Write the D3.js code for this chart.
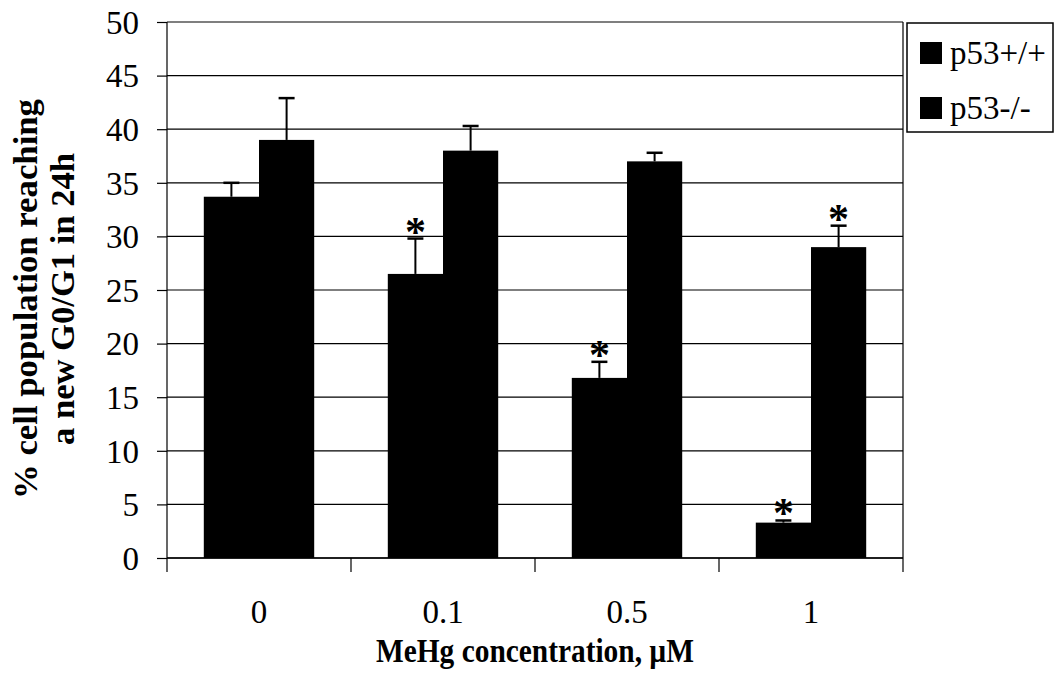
<!DOCTYPE html>
<html>
<head>
<meta charset="utf-8">
<script src="https://cdn.jsdelivr.net/npm/d3@7"></script>
<style>
  body { margin: 0; background: #fff; }
  text { font-family: "Liberation Serif", "Times New Roman", serif; fill: #000; }
</style>
</head>
<body>
<svg width="1055" height="675"></svg>
<script>
// data
const categories = [ "0", "0.1", "0.5", "1" ];
const seriesNames = [ "p53+/+", "p53-/-" ];
const wildType = [ 33.7, 26.5, 16.8, 3.3 ];
const wildTypeErr = [ 1.3, 3.3, 1.5, 0.2 ];
const knockout = [ 39.0, 38.0, 37.0, 29.0 ];
const knockoutErr = [ 3.9, 2.3, 0.8, 2.0 ];
const wildTypeStar = [ false, true, true, true ];
const knockoutStar = [ false, false, false, true ];
const yTicks = [ 0, 5, 10, 15, 20, 25, 30, 35, 40, 45, 50 ];

var svg = d3.select( "svg" ),
  margin = { top: 22, right: 152, bottom: 117, left: 167 },
  width = 1055 - margin.left - margin.right,
  height = 675 - margin.top - margin.bottom;

var x = d3.scaleBand().domain( categories ).range( [ 0, width ] ).paddingInner( 0 ).paddingOuter( 0 ),
  x1 = d3.scaleBand().domain( seriesNames ).range( [ x.bandwidth() * 0.2, x.bandwidth() * 0.8 ] ),
  y = d3.scaleLinear().domain( [ 0, 50 ] ).range( [ height, 0 ] );

var g = svg.append( "g" )
  .attr( "transform", "translate(" + margin.left + "," + margin.top + ")" );

// gridlines
g.append( "g" )
  .selectAll( "line" )
  .data( yTicks )
  .enter().append( "line" )
  .attr( "x1", 0 ).attr( "x2", width )
  .attr( "y1", d => y( d ) ).attr( "y2", d => y( d ) )
  .attr( "stroke", "#000" ).attr( "stroke-width", 1.2 );

// right border of plot area
g.append( "line" )
  .attr( "x1", width ).attr( "x2", width )
  .attr( "y1", 0 ).attr( "y2", height )
  .attr( "stroke", "#000" ).attr( "stroke-width", 1.2 );

var rows = categories.map( function ( c, i ) {
  return [
    { cat: c, s: seriesNames[ 0 ], v: wildType[ i ], e: wildTypeErr[ i ], star: wildTypeStar[ i ] },
    { cat: c, s: seriesNames[ 1 ], v: knockout[ i ], e: knockoutErr[ i ], star: knockoutStar[ i ] }
  ];
} ).flat();

// bars
g.selectAll( ".bar" )
  .data( rows )
  .enter().append( "rect" )
  .attr( "class", "bar" )
  .attr( "x", d => x( d.cat ) + x1( d.s ) )
  .attr( "y", d => y( d.v ) )
  .attr( "width", x1.bandwidth() )
  .attr( "height", d => height - y( d.v ) )
  .attr( "fill", "#000" );

// error bars
var err = g.selectAll( ".err" )
  .data( rows )
  .enter().append( "g" )
  .attr( "class", "err" );
err.append( "line" )
  .attr( "x1", d => x( d.cat ) + x1( d.s ) + x1.bandwidth() / 2 )
  .attr( "x2", d => x( d.cat ) + x1( d.s ) + x1.bandwidth() / 2 )
  .attr( "y1", d => y( d.v ) )
  .attr( "y2", d => y( d.v + d.e ) )
  .attr( "stroke", "#000" ).attr( "stroke-width", 2 );
err.append( "line" )
  .attr( "x1", d => x( d.cat ) + x1( d.s ) + x1.bandwidth() / 2 - 8 )
  .attr( "x2", d => x( d.cat ) + x1( d.s ) + x1.bandwidth() / 2 + 8 )
  .attr( "y1", d => y( d.v + d.e ) )
  .attr( "y2", d => y( d.v + d.e ) )
  .attr( "stroke", "#000" ).attr( "stroke-width", 2.5 );

// asterisks
g.selectAll( ".star" )
  .data( rows.filter( d => d.star ) )
  .enter().append( "text" )
  .attr( "class", "star" )
  .attr( "x", d => x( d.cat ) + x1( d.s ) + x1.bandwidth() / 2 )
  .attr( "y", d => y( d.v + d.e ) + 7 )
  .attr( "text-anchor", "middle" )
  .style( "font-size", "42px" )
  .style( "font-weight", "bold" )
  .text( "*" );

// y axis
var yAxis = g.append( "g" )
  .call( d3.axisLeft( y ).tickValues( yTicks ).tickSize( 10 ).tickPadding( 18 ) );
yAxis.select( ".domain" ).attr( "stroke-width", 1.2 ).attr( "d", "M0," + height + "V0" );
yAxis.selectAll( "line" ).attr( "stroke-width", 1.2 );
yAxis.selectAll( "text" ).style( "font-size", "33px" ).style( "font-family", "'Liberation Serif', serif" ).attr( "dy", "0.34em" );

// x axis: ticks at category boundaries
var xAxis = g.append( "g" )
  .attr( "transform", "translate(0," + height + ")" );
xAxis.append( "line" )
  .attr( "x1", 0 ).attr( "x2", width )
  .attr( "stroke", "#000" ).attr( "stroke-width", 1.5 );
xAxis.selectAll( ".xtick" )
  .data( categories.concat( [ "end" ] ) )
  .enter().append( "line" )
  .attr( "x1", ( d, i ) => i * x.step() )
  .attr( "x2", ( d, i ) => i * x.step() )
  .attr( "y1", 0 ).attr( "y2", 14 )
  .attr( "stroke", "#000" ).attr( "stroke-width", 1.2 );
xAxis.selectAll( ".xlab" )
  .data( categories )
  .enter().append( "text" )
  .attr( "x", d => x( d ) + x.bandwidth() / 2 )
  .attr( "y", 65 )
  .attr( "text-anchor", "middle" )
  .style( "font-size", "33px" )
  .text( d => d );

// axis titles
svg.append( "text" )
  .attr( "x", margin.left + width / 2 )
  .attr( "y", 662 )
  .attr( "text-anchor", "middle" )
  .attr( "textLength", 318 )
  .attr( "lengthAdjust", "spacingAndGlyphs" )
  .style( "font-size", "33px" )
  .style( "font-weight", "bold" )
  .text( "MeHg concentration, \u00b5M" );

var yTitle = svg.append( "g" )
  .attr( "transform", "translate(0,299) rotate(-90)" );
yTitle.append( "text" )
  .attr( "x", 0 ).attr( "y", 37 )
  .attr( "text-anchor", "middle" )
  .attr( "textLength", 400 )
  .attr( "lengthAdjust", "spacingAndGlyphs" )
  .style( "font-size", "33px" )
  .style( "font-weight", "bold" )
  .text( "% cell population reaching" );
yTitle.append( "text" )
  .attr( "x", 0 ).attr( "y", 74 )
  .attr( "text-anchor", "middle" )
  .attr( "textLength", 292 )
  .attr( "lengthAdjust", "spacingAndGlyphs" )
  .style( "font-size", "33px" )
  .style( "font-weight", "bold" )
  .text( "a new G0/G1 in 24h" );

// legend
var legend = svg.append( "g" ).attr( "transform", "translate(907,23)" );
legend.append( "rect" )
  .attr( "width", 146 ).attr( "height", 109 )
  .attr( "fill", "#fff" ).attr( "stroke", "#000" ).attr( "stroke-width", 1.5 );
var items = legend.selectAll( ".item" )
  .data( seriesNames )
  .enter().append( "g" )
  .attr( "transform", ( d, i ) => "translate(13," + ( 30 + i * 55 ) + ")" );
items.append( "rect" )
  .attr( "x", 0 ).attr( "y", -11 )
  .attr( "width", 22 ).attr( "height", 22 )
  .attr( "fill", "#000" );
items.append( "text" )
  .attr( "x", 30 ).attr( "y", 0 )
  .attr( "dy", "0.34em" )
  .style( "font-size", "33px" )
  .text( d => d );
</script>
</body>
</html>
